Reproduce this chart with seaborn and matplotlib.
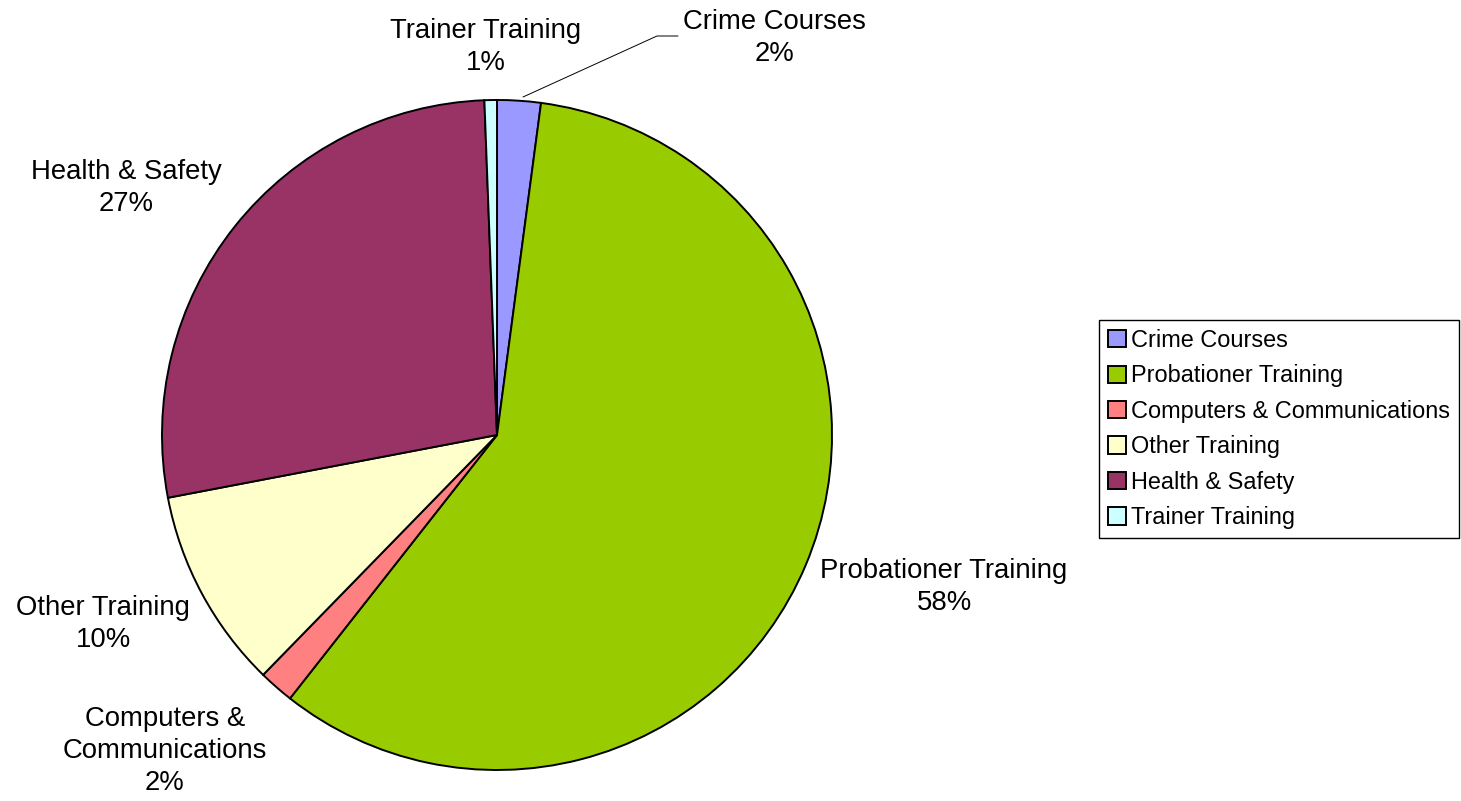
import matplotlib
matplotlib.use("Agg")
import matplotlib.pyplot as plt
import seaborn as sns
from matplotlib.patches import Patch

categories = ["Crime Courses", "Probationer Training", "Computers & Communications",
              "Other Training", "Health & Safety", "Trainer Training"]
values = [2.1, 58.5, 1.7, 9.7, 27.4, 0.6]
label_texts = ["Crime Courses\n2%", "Probationer Training\n58%", "Computers &\nCommunications\n2%",
               "Other Training\n10%", "Health & Safety\n27%", "Trainer Training\n1%"]
colors = ["#9999FF", "#99CC00", "#FF8080", "#FFFFCC", "#993366", "#CCFFFF"]

sns.set_style("white")
plt.rcParams["font.family"] = ["Liberation Sans", "DejaVu Sans"]

W, H = 1461, 801
fig = plt.figure(figsize=(W / 100, H / 100), dpi=100)
ax = fig.add_axes([0, 0, 1, 1])

palette = sns.color_palette(colors)
cx, cy, r = 497, H - 435, 335
ax.pie(values, colors=palette, startangle=90, counterclock=False,
       center=(cx, cy), radius=r, frame=True,
       wedgeprops=dict(edgecolor="black", linewidth=1.4))
ax.set_xlim(0, W)
ax.set_ylim(0, H)
ax.set_aspect("equal")
ax.axis("off")

label_pos = [(774, 38), (944, 587), (165, 751), (103, 624), (126, 188), (486, 47)]
for txt, (x, y) in zip(label_texts, label_pos):
    ax.text(x, H - y, txt, ha="center", va="center", fontsize=19.8,
            linespacing=1.32, color="black")

# leader line for Crime Courses
ax.plot([523, 657, 678], [H - 97, H - 36, H - 36], color="black", linewidth=0.7)

handles = [Patch(facecolor=c, edgecolor="black", linewidth=1.4) for c in colors]
leg = ax.legend(handles, categories, loc="upper left",
                bbox_to_anchor=(1099 / W, 1 - 320 / H), bbox_transform=fig.transFigure,
                fontsize=16.9, frameon=True, fancybox=False, framealpha=1,
                edgecolor="black", handlelength=0.75, handleheight=0.75,
                handletextpad=0.25, labelspacing=0.53, borderpad=0.38,
                borderaxespad=0, labelcolor="black")
leg.get_frame().set_linewidth(1.0)

fig.savefig("out.png", dpi=100)
